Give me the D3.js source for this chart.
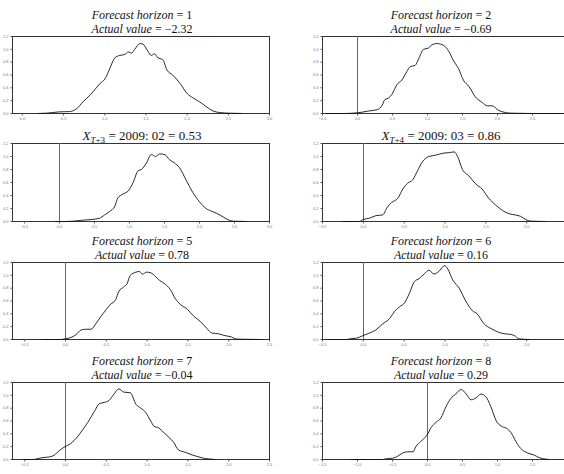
<!DOCTYPE html>
<html>
<head>
<meta charset="utf-8">
<script src="https://cdn.jsdelivr.net/npm/d3@7"></script>
<style>
  body { margin: 0; background: #fff; }
  svg { display: block; }
</style>
</head>
<body>
<script>
// Kernel density estimates of the forecast distribution, one per horizon
const gridH1 = [0.19, 0.3, 0.45, 0.58, 0.67, 0.74, 0.83, 0.91, 0.95, 1.01, 1.07, 1.13, 1.19, 1.25, 1.29, 1.33, 1.37, 1.43, 1.47, 1.53, 1.57, 1.61, 1.65, 1.71, 1.76, 1.83, 1.92, 2.0, 2.08, 2.16, 2.24, 2.32, 2.4, 2.52, 2.67];
const densH1 = [0, 0.005, 0.025, 0.03, 0.08, 0.18, 0.29, 0.41, 0.47, 0.54, 0.71, 0.87, 0.905, 0.92, 0.96, 0.94, 1.0, 1.09, 1.08, 0.97, 0.905, 0.93, 0.87, 0.84, 0.68, 0.6, 0.47, 0.32, 0.24, 0.18, 0.105, 0.04, 0.015, 0.005, 0];

const gridH2 = [-0.45, -0.2, 0.0, 0.07, 0.17, 0.29, 0.36, 0.40, 0.45, 0.5, 0.57, 0.64, 0.71, 0.76, 0.83, 0.88, 0.95, 1.02, 1.07, 1.14, 1.24, 1.31, 1.38, 1.45, 1.52, 1.60, 1.69, 1.79, 1.86, 1.93, 2.02, 2.12, 2.21, 2.5, 2.95];
const densH2 = [0, 0, 0.01, 0.02, 0.04, 0.06, 0.13, 0.22, 0.24, 0.30, 0.45, 0.52, 0.65, 0.73, 0.75, 0.85, 1.0, 1.02, 1.07, 1.09, 1.06, 0.97, 0.82, 0.70, 0.52, 0.42, 0.26, 0.17, 0.12, 0.12, 0.05, 0.015, 0.005, 0, 0];

const gridH3 = [-0.06, 0.1, 0.25, 0.34, 0.46, 0.58, 0.65, 0.72, 0.80, 0.84, 0.91, 0.99, 1.06, 1.13, 1.18, 1.25, 1.32, 1.38, 1.44, 1.51, 1.58, 1.65, 1.72, 1.82, 1.91, 2.01, 2.10, 2.20, 2.30, 2.41, 2.49, 2.68];
const densH3 = [0, 0, 0.01, 0.02, 0.03, 0.05, 0.1, 0.15, 0.24, 0.36, 0.42, 0.47, 0.6, 0.78, 0.8, 0.9, 1.03, 1.0, 1.04, 1.03, 0.95, 0.9, 0.83, 0.63, 0.45, 0.3, 0.2, 0.15, 0.1, 0.03, 0.005, 0];

const gridH4 = [-0.26, -0.04, 0.0, 0.08, 0.16, 0.24, 0.30, 0.35, 0.43, 0.49, 0.55, 0.61, 0.67, 0.73, 0.81, 0.89, 0.98, 1.06, 1.12, 1.16, 1.22, 1.30, 1.38, 1.46, 1.54, 1.63, 1.71, 1.79, 1.87, 1.93, 2.01, 2.07, 2.24];
const densH4 = [0, 0, 0.03, 0.05, 0.09, 0.10, 0.22, 0.29, 0.36, 0.5, 0.59, 0.64, 0.78, 0.92, 1.0, 1.02, 1.05, 1.06, 1.07, 1.0, 0.8, 0.7, 0.58, 0.5, 0.36, 0.25, 0.17, 0.12, 0.10, 0.08, 0.02, 0.005, 0];

const gridH5 = [-0.29, -0.05, 0.0, 0.07, 0.13, 0.2, 0.26, 0.32, 0.38, 0.44, 0.5, 0.56, 0.62, 0.66, 0.72, 0.76, 0.80, 0.87, 0.91, 0.95, 1.0, 1.05, 1.11, 1.16, 1.23, 1.29, 1.35, 1.41, 1.5, 1.58, 1.66, 1.74, 1.80, 1.88, 1.96, 2.04, 2.09, 2.13, 2.41];
const densH5 = [0, 0, 0.01, 0.03, 0.07, 0.15, 0.16, 0.16, 0.25, 0.36, 0.46, 0.55, 0.62, 0.75, 0.82, 0.87, 1.0, 1.05, 1.06, 1.02, 1.05, 1.04, 0.98, 0.92, 0.86, 0.78, 0.64, 0.55, 0.47, 0.36, 0.28, 0.17, 0.1, 0.09, 0.06, 0.04, 0.01, 0.005, 0];

const gridH6 = [-0.43, -0.2, -0.16, -0.08, 0.0, 0.08, 0.16, 0.24, 0.33, 0.39, 0.45, 0.51, 0.57, 0.63, 0.69, 0.75, 0.81, 0.87, 0.93, 1.0, 1.04, 1.10, 1.18, 1.26, 1.34, 1.40, 1.48, 1.57, 1.65, 1.73, 1.81, 1.87, 1.91, 2.05];
const densH6 = [0, 0, 0.01, 0.02, 0.06, 0.1, 0.15, 0.24, 0.33, 0.44, 0.51, 0.57, 0.72, 0.9, 0.95, 1.02, 1.08, 1.02, 1.06, 1.15, 1.1, 0.93, 0.8, 0.6, 0.45, 0.4, 0.25, 0.17, 0.12, 0.09, 0.08, 0.05, 0.01, 0];

const gridH7 = [-0.5, -0.39, -0.35, -0.27, -0.19, -0.13, -0.07, 0.0, 0.07, 0.15, 0.22, 0.28, 0.36, 0.42, 0.48, 0.54, 0.60, 0.66, 0.72, 0.80, 0.87, 0.93, 0.99, 1.05, 1.09, 1.15, 1.21, 1.27, 1.33, 1.39, 1.48, 1.56, 1.64, 1.72, 1.80, 1.84];
const densH7 = [0, 0, 0.01, 0.03, 0.04, 0.07, 0.14, 0.2, 0.25, 0.35, 0.47, 0.58, 0.75, 0.87, 0.89, 0.92, 1.02, 1.10, 1.05, 1.04, 0.86, 0.8, 0.73, 0.6, 0.52, 0.49, 0.42, 0.35, 0.27, 0.15, 0.11, 0.07, 0.04, 0.015, 0.005, 0];

const gridH8 = [-1.11, -0.63, -0.59, -0.49, -0.42, -0.35, -0.28, -0.2, -0.16, -0.09, 0.0, 0.06, 0.13, 0.2, 0.27, 0.34, 0.41, 0.49, 0.56, 0.63, 0.7, 0.77, 0.84, 0.91, 0.99, 1.06, 1.13, 1.2, 1.27, 1.34, 1.44, 1.53, 1.6, 1.7, 1.75];
const densH8 = [0, 0, 0.01, 0.02, 0.05, 0.1, 0.12, 0.12, 0.2, 0.28, 0.38, 0.5, 0.58, 0.65, 0.82, 0.95, 1.02, 1.09, 1.02, 0.93, 0.96, 1.02, 0.98, 0.83, 0.6, 0.52, 0.49, 0.42, 0.28, 0.17, 0.1, 0.07, 0.03, 0.005, 0];

// Panel labels
const horizons = [1, 2, 3, 4, 5, 6, 7, 8];
const actualValues = [-2.32, -0.69, 0.53, 0.86, 0.78, 0.16, -0.04, 0.29];
const obsDates = [null, null, "2009: 02", "2009: 03", null, null, null, null];

// Axis extents and tick values per panel
const xMin = [-0.12, -0.5, -0.67, -0.5, -0.65, -0.5, -0.65, -1.5];
const xMax = [3.0, 3.0, 3.0, 2.5, 2.5, 2.5, 2.5, 2.0];
const xTicks = [
  [0, 0.5, 1, 1.5, 2, 2.5, 3],
  [-0.5, 0, 0.5, 1, 1.5, 2, 2.5],
  [-0.5, 0, 0.5, 1, 1.5, 2, 2.5, 3],
  [-0.5, 0, 0.5, 1, 1.5, 2],
  [-0.5, 0, 0.5, 1, 1.5, 2, 2.5],
  [-0.5, 0, 0.5, 1, 1.5, 2],
  [-0.5, 0, 0.5, 1, 1.5, 2, 2.5],
  [-1.5, -1, -0.5, 0, 0.5, 1, 1.5]
];
const yTicks = [0, 0.2, 0.4, 0.6, 0.8, 1.0, 1.2];

const grids = [gridH1, gridH2, gridH3, gridH4, gridH5, gridH6, gridH7, gridH8];
const dens = [densH1, densH2, densH3, densH4, densH5, densH6, densH7, densH8];

// Page layout
const W = 564, H = 474;
const colLeft = [12, 322];
const colRight = [269, 567];
const colCenter = [142, 441];
const rowTop = [36, 143, 262, 382];
const rowBottom = [113, 221, 339, 459];

const svg = d3.select("body").append("svg")
  .attr("width", W).attr("height", H)
  .style("font-family", "'Liberation Serif', serif");

const fmt = d3.format(".1f");
const minus = v => (v < 0 ? "\u2212" + Math.abs(v).toFixed(2) : v.toFixed(2));

horizons.forEach((h, i) => {
  const col = i % 2, row = Math.floor(i / 2);
  const x = d3.scaleLinear().domain([xMin[i], xMax[i]]).range([colLeft[col], colRight[col]]);
  const y = d3.scaleLinear().domain([0, 1.2]).range([rowBottom[row], rowTop[row]]);
  const g = svg.append("g");

  // frame
  g.append("rect")
    .attr("x", x.range()[0] + 0.5).attr("y", y.range()[1] + 0.5)
    .attr("width", x.range()[1] - x.range()[0]).attr("height", y.range()[0] - y.range()[1])
    .attr("fill", "none").attr("stroke", "#333").attr("stroke-width", 1);

  // y axis
  const yAxis = d3.axisLeft(y).tickValues(yTicks).tickFormat(fmt).tickSize(2).tickPadding(2);
  const ya = g.append("g").attr("transform", `translate(${x.range()[0] + 0.5},0)`).call(yAxis);
  ya.select(".domain").remove();
  ya.selectAll("line").attr("stroke", "#555");
  ya.selectAll("text").attr("font-size", 4).attr("fill", "#777").attr("font-family", "'Liberation Sans', sans-serif");

  // x axis
  const xAxis = d3.axisBottom(x).tickValues(xTicks[i]).tickFormat(fmt).tickSize(2).tickPadding(2);
  const xa = g.append("g").attr("transform", `translate(0,${y.range()[0] + 0.5})`).call(xAxis);
  xa.select(".domain").remove();
  xa.selectAll("line").attr("stroke", "#555");
  xa.selectAll("text").attr("font-size", 4).attr("fill", "#777").attr("font-family", "'Liberation Sans', sans-serif");

  // zero reference line
  if (i > 0 && x.domain()[0] < 0) {
    g.append("line")
      .attr("x1", Math.round(x(0)) + 0.5).attr("x2", Math.round(x(0)) + 0.5)
      .attr("y1", y(0)).attr("y2", y(1.2))
      .attr("stroke", "#666").attr("stroke-width", 1);
  }

  // density curve
  const pts = grids[i].map((v, k) => [v, dens[i][k]]);
  g.append("path")
    .datum(pts)
    .attr("fill", "none").attr("stroke", "#111").attr("stroke-width", 0.9)
    .attr("d", d3.line().x(d => x(d[0])).y(d => y(d[1]) + 0.5).curve(d3.curveMonotoneX));

  // titles
  const cx = colCenter[col];
  if (obsDates[i]) {
    const t = svg.append("text").attr("x", cx).attr("y", rowTop[row] - 3)
      .attr("text-anchor", "middle").attr("font-size", 13).attr("fill", "#111");
    t.append("tspan").attr("font-style", "italic").text("X");
    t.append("tspan").attr("font-size", 9).attr("dy", 3).attr("font-style", "italic").text("T");
    t.append("tspan").attr("font-size", 9).text("+" + h);
    t.append("tspan").attr("dy", -3).text(" = " + obsDates[i] + " = " + minus(actualValues[i]));
  } else {
    const t1 = svg.append("text").attr("x", cx).attr("y", rowTop[row] - 17)
      .attr("text-anchor", "middle").attr("font-size", 12).attr("fill", "#111");
    t1.append("tspan").attr("font-style", "italic").text("Forecast horizon");
    t1.append("tspan").text(" = " + h);
    const t2 = svg.append("text").attr("x", cx).attr("y", rowTop[row] - 3.5)
      .attr("text-anchor", "middle").attr("font-size", 12).attr("fill", "#111");
    t2.append("tspan").attr("font-style", "italic").text("Actual value");
    t2.append("tspan").text(" = " + minus(actualValues[i]));
  }
});
</script>
</body>
</html>
